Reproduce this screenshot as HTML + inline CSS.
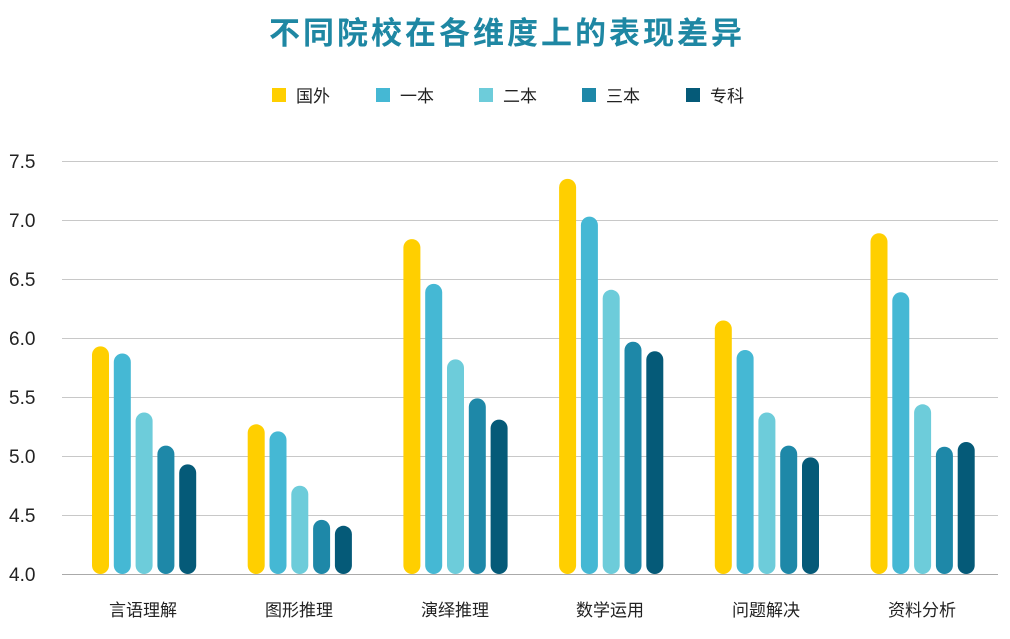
<!DOCTYPE html>
<html><head><meta charset="utf-8"><style>
body{margin:0;background:#fff;}
svg text{font-family:"Liberation Sans","Noto Sans CJK SC",sans-serif;}
</style></head><body>
<svg width="1010" height="634" xmlns="http://www.w3.org/2000/svg">
<rect width="1010" height="634" fill="#fff"/>
<text x="507" y="44" text-anchor="middle" font-size="31" letter-spacing="3" font-weight="bold" fill="#1E87A3">不同院校在各维度上的表现差异</text>
<g font-size="17" fill="#222">
<rect x="272" y="88" width="14" height="14" fill="#FFCF00"/><text x="296" y="102">国外</text>
<rect x="376" y="88" width="14" height="14" fill="#45B8D4"/><text x="400" y="102">一本</text>
<rect x="479" y="88" width="14" height="14" fill="#6DCCDA"/><text x="503" y="102">二本</text>
<rect x="582" y="88" width="14" height="14" fill="#1E88A8"/><text x="606" y="102">三本</text>
<rect x="686" y="88" width="14" height="14" fill="#055A78"/><text x="710" y="102">专科</text>
</g>
<g stroke="#c8c8c8" stroke-width="1">
<line x1="62" x2="998" y1="161.5" y2="161.5"/><line x1="62" x2="998" y1="220.5" y2="220.5"/>
<line x1="62" x2="998" y1="279.5" y2="279.5"/><line x1="62" x2="998" y1="338.5" y2="338.5"/>
<line x1="62" x2="998" y1="397.5" y2="397.5"/><line x1="62" x2="998" y1="456.5" y2="456.5"/>
<line x1="62" x2="998" y1="515.5" y2="515.5"/><line x1="62" x2="998" y1="574.5" y2="574.5" stroke="#aaa"/>
</g>
<g font-size="19" fill="#222">
<text x="9" y="168">7.5</text><text x="9" y="227">7.0</text><text x="9" y="286">6.5</text>
<text x="9" y="345">6.0</text><text x="9" y="404">5.5</text><text x="9" y="463">5.0</text>
<text x="9" y="522">4.5</text><text x="9" y="581">4.0</text>
</g>
<g font-size="17" fill="#222" text-anchor="middle">
<text x="143" y="616">言语理解</text><text x="299" y="616">图形推理</text><text x="455" y="616">演绎推理</text>
<text x="610" y="616">数学运用</text><text x="766" y="616">问题解决</text><text x="922" y="616">资料分析</text>
</g>
<g>
<rect x="92" y="346.4" width="17" height="227.6" rx="8.5" fill="#FFCF00"/>
<rect x="113.8" y="353.5" width="17" height="220.5" rx="8.5" fill="#45B8D4"/>
<rect x="135.6" y="412.5" width="17" height="161.5" rx="8.5" fill="#6DCCDA"/>
<rect x="157.4" y="445.6" width="17" height="128.4" rx="8.5" fill="#1E88A8"/>
<rect x="179.2" y="464.4" width="17" height="109.6" rx="8.5" fill="#055A78"/>

<rect x="247.7" y="424.3" width="17" height="149.7" rx="8.5" fill="#FFCF00"/>
<rect x="269.5" y="431.4" width="17" height="142.6" rx="8.5" fill="#45B8D4"/>
<rect x="291.3" y="485.7" width="17" height="88.3" rx="8.5" fill="#6DCCDA"/>
<rect x="313.1" y="519.9" width="17" height="54.1" rx="8.5" fill="#1E88A8"/>
<rect x="334.9" y="525.8" width="17" height="48.2" rx="8.5" fill="#055A78"/>

<rect x="403.4" y="239.1" width="17" height="334.9" rx="8.5" fill="#FFCF00"/>
<rect x="425.2" y="283.9" width="17" height="290.1" rx="8.5" fill="#45B8D4"/>
<rect x="447" y="359.4" width="17" height="214.6" rx="8.5" fill="#6DCCDA"/>
<rect x="468.8" y="398.4" width="17" height="175.6" rx="8.5" fill="#1E88A8"/>
<rect x="490.6" y="419.6" width="17" height="154.4" rx="8.5" fill="#055A78"/>

<rect x="559.1" y="178.9" width="17" height="395.1" rx="8.5" fill="#FFCF00"/>
<rect x="580.9" y="216.6" width="17" height="357.4" rx="8.5" fill="#45B8D4"/>
<rect x="602.7" y="289.8" width="17" height="284.2" rx="8.5" fill="#6DCCDA"/>
<rect x="624.5" y="341.7" width="17" height="232.3" rx="8.5" fill="#1E88A8"/>
<rect x="646.3" y="351.2" width="17" height="222.8" rx="8.5" fill="#055A78"/>

<rect x="714.8" y="320.5" width="17" height="253.5" rx="8.5" fill="#FFCF00"/>
<rect x="736.6" y="350" width="17" height="224" rx="8.5" fill="#45B8D4"/>
<rect x="758.4" y="412.5" width="17" height="161.5" rx="8.5" fill="#6DCCDA"/>
<rect x="780.2" y="445.6" width="17" height="128.4" rx="8.5" fill="#1E88A8"/>
<rect x="802" y="457.4" width="17" height="116.6" rx="8.5" fill="#055A78"/>

<rect x="870.5" y="233.2" width="17" height="340.8" rx="8.5" fill="#FFCF00"/>
<rect x="892.3" y="292.2" width="17" height="281.8" rx="8.5" fill="#45B8D4"/>
<rect x="914.1" y="404.3" width="17" height="169.7" rx="8.5" fill="#6DCCDA"/>
<rect x="935.9" y="446.7" width="17" height="127.3" rx="8.5" fill="#1E88A8"/>
<rect x="957.7" y="442" width="17" height="132" rx="8.5" fill="#055A78"/>
</g>
</svg>
</body></html>
